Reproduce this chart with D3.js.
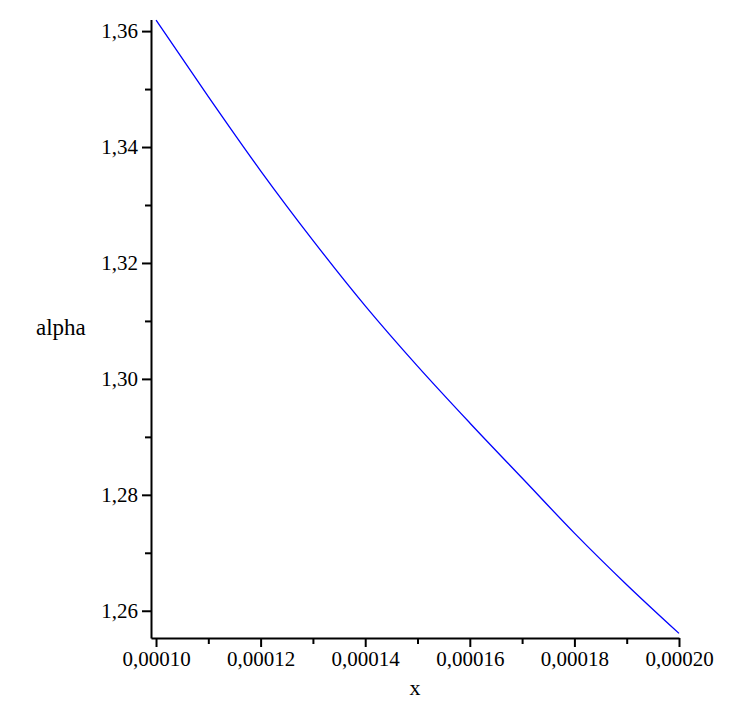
<!DOCTYPE html>
<html>
<head>
<meta charset="utf-8">
<script src="https://cdn.jsdelivr.net/npm/d3@7"></script>
<style>
  html, body { margin: 0; padding: 0; background: #ffffff; }
  svg { display: block; }
  text { font-family: "Liberation Serif", "DejaVu Serif", serif; fill: #000; }
</style>
</head>
<body>
<script>
// ---- data ----
const xValues = [0.00010, 0.00011, 0.00012, 0.00013, 0.00014, 0.00015, 0.00016, 0.00017, 0.00018, 0.00019, 0.00020];
const alphaValues = [1.3619, 1.3487, 1.3359, 1.3239, 1.3126, 1.3022, 1.2924, 1.2829, 1.2734, 1.2645, 1.2561];
const xMajorTicks = [0.00010, 0.00012, 0.00014, 0.00016, 0.00018, 0.00020];
const xMinorTicks = [0.00011, 0.00013, 0.00015, 0.00017, 0.00019];
const yMajorTicks = [1.26, 1.28, 1.30, 1.32, 1.34, 1.36];
const yMinorTicks = [1.27, 1.29, 1.31, 1.33, 1.35];
const xLabel = "x";
const yLabel = "alpha";

const W = 747, H = 726;
const svg = d3.select("body").append("svg").attr("width", W).attr("height", H);

const locale = d3.formatLocale({decimal: ",", thousands: ".", grouping: [3], currency: ["", ""]});
const fx = locale.format(".5f");
const fy = locale.format(".2f");

// view range of the plot (axis lines span this)
const x = d3.scaleLinear().domain([0.00009904, 0.00020]).range([151, 679]);
const y = d3.scaleLinear().domain([1.2553, 1.3620]).range([638, 19.5]);

const axisColor = "#000";
const fs = 21;

// x axis
const gx = svg.append("g").attr("transform", `translate(0,${y.range()[0]})`);
gx.call(d3.axisBottom(x).tickValues(xMajorTicks).tickSize(9).tickPadding(4).tickFormat(fx).tickSizeOuter(0));
gx.append("g").call(d3.axisBottom(x).tickValues(xMinorTicks).tickSize(6).tickFormat(""))
  .select(".domain").remove();

// y axis
const gy = svg.append("g").attr("transform", `translate(${x.range()[0]},0)`);
gy.call(d3.axisLeft(y).tickValues(yMajorTicks).tickSize(9).tickPadding(4).tickFormat(fy).tickSizeOuter(0));
gy.append("g").call(d3.axisLeft(y).tickValues(yMinorTicks).tickSize(6).tickFormat(""))
  .select(".domain").remove();

svg.selectAll(".domain").attr("stroke", axisColor).attr("stroke-width", 2);
svg.selectAll(".tick line").attr("stroke", axisColor).attr("stroke-width", 2);
svg.selectAll(".tick text").attr("font-family", "Liberation Serif").attr("font-size", fs).attr("fill", "#000");

// curve
const line = d3.line().x((d, i) => x(xValues[i])).y(d => y(d)).curve(d3.curveMonotoneX);
svg.append("path").datum(alphaValues)
  .attr("d", line)
  .attr("fill", "none")
  .attr("stroke", "#0000ff")
  .attr("stroke-width", 1.3);

// axis labels
svg.append("text").attr("x", 415).attr("y", 695).attr("text-anchor", "middle")
  .attr("font-size", 22).text(xLabel);
svg.append("text").attr("x", 36).attr("y", 335).attr("text-anchor", "start")
  .attr("font-size", 23).text(yLabel);
</script>
</body>
</html>
